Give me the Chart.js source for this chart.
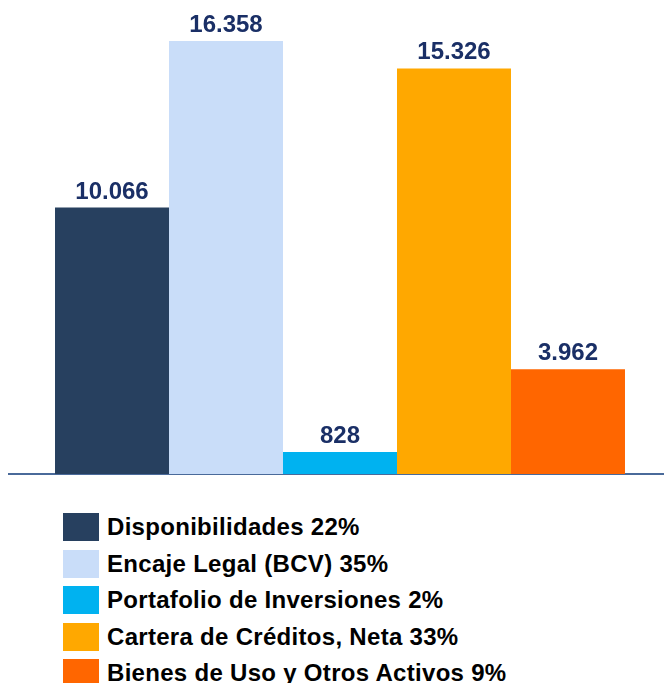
<!DOCTYPE html>
<html>
<head>
<meta charset="utf-8">
<script src="https://cdn.jsdelivr.net/npm/chart.js@4/dist/chart.umd.min.js"></script>
<style>
    body { margin: 0; overflow: hidden; background: #fff; font-family: "Liberation Sans", Arial, sans-serif; }
    #wrap { position: relative; width: 664px; height: 683px; overflow: hidden; }
    #chart { position: absolute; left: 0; top: 0; }
    #legend { position: absolute; left: 63px; top: 513px; margin: 0; padding: 0; list-style: none; }
    #legend li { display: flex; align-items: center; height: 28px; margin-bottom: 8.5px; }
    #legend .box { width: 36px; height: 28px; margin-right: 8px; flex: none; }
    #legend .txt { font-weight: bold; font-size: 24px; letter-spacing: 0.3px; color: #000; white-space: nowrap; }
</style>
</head>
<body>
<div id="wrap">
    <canvas id="chart" width="672" height="489"></canvas>
    <ul id="legend"></ul>
</div>
<script>
    /*
    ** Data
    */
    var seriesNames = ["Disponibilidades 22%", "Encaje Legal (BCV) 35%", "Portafolio de Inversiones 2%",
                       "Cartera de Créditos, Neta 33%", "Bienes de Uso y Otros Activos 9%"];
    var seriesValues = [10066, 16358, 828, 15326, 3962];
    var valueLabels = ["10.066", "16.358", "828", "15.326", "3.962"];
    var seriesColors = ["#27405f", "#c9ddf9", "#00b2f0", "#ffa800", "#ff6600"];

    /*
    ** Value labels above each bar
    */
    var valuePlugin = {
        id: 'valueLabels',
        afterDatasetsDraw: function (chart) {
            var ctx = chart.ctx;
            ctx.save();
            ctx.font = "bold 24px 'Liberation Sans', Arial, sans-serif";
            ctx.fillStyle = "#1a2f66";
            ctx.textAlign = "center";
            ctx.textBaseline = "alphabetic";
            chart.data.datasets.forEach(function (ds, i) {
                var bar = chart.getDatasetMeta(i).data[0];
                ctx.fillText(valueLabels[i], bar.x, bar.y - 9);
            });
            ctx.restore();
        }
    };

    var datasets = seriesNames.map(function (name, i) {
        return {
            label: name,
            data: [seriesValues[i]],
            backgroundColor: seriesColors[i],
            borderWidth: 0,
            barPercentage: 1,
            categoryPercentage: 0.861
        };
    });

    var chart = new Chart(document.getElementById("chart"), {
        type: 'bar',
        data: { labels: [""], datasets: datasets },
        options: {
            responsive: false,
            animation: false,
            layout: { padding: { left: 9, right: 1, top: 0, bottom: 7 } },
            plugins: { legend: { display: false }, tooltip: { enabled: false } },
            scales: {
                x: {
                    grid: { display: false },
                    ticks: { display: false },
                    border: { display: true, color: "#4a6a9a", width: 2 }
                },
                y: { display: false, min: 0, max: 17910 }
            }
        },
        plugins: [valuePlugin]
    });

    /*
    ** HTML legend, one row per series
    */
    var legend = document.getElementById("legend");
    seriesNames.forEach(function (name, i) {
        var li = document.createElement("li");
        li.innerHTML = '<span class="box" style="background:' + seriesColors[i] + '"></span>' +
                       '<span class="txt">' + name + '</span>';
        legend.appendChild(li);
    });
</script>
</body>
</html>
